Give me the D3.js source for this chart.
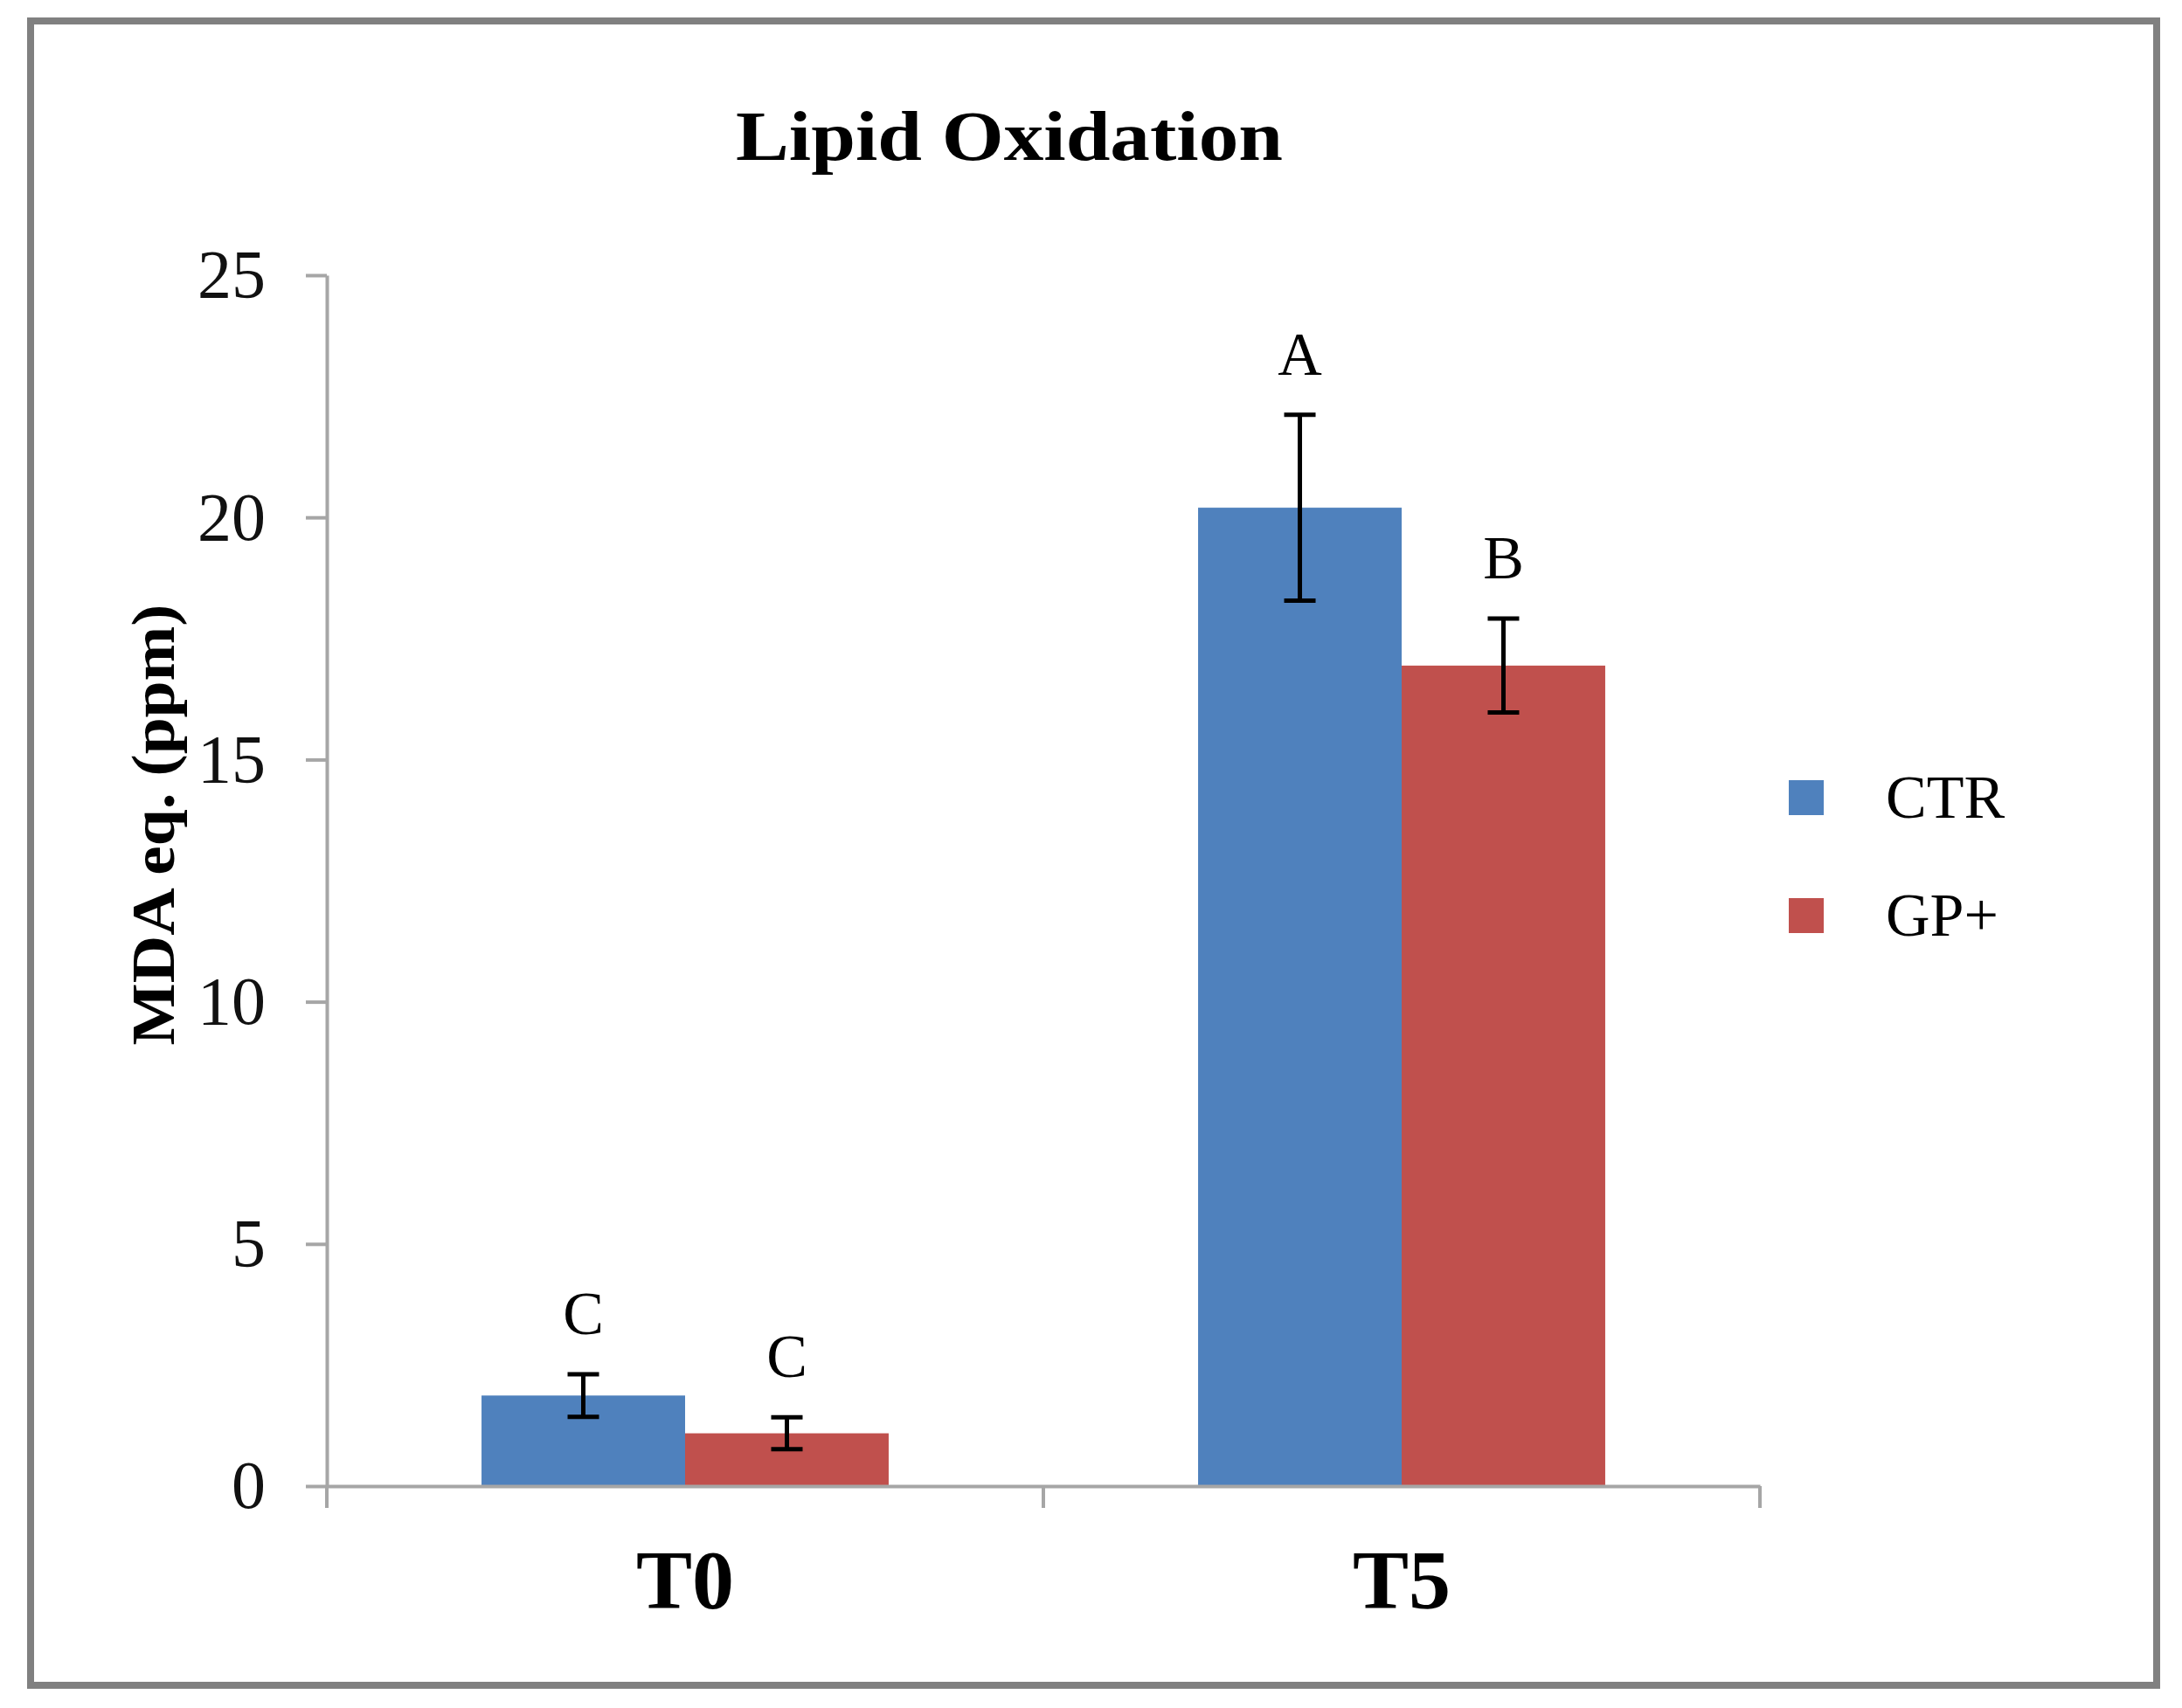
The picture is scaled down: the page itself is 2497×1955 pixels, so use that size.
<!DOCTYPE html>
<html>
<head>
<meta charset="utf-8">
<script src="https://cdn.jsdelivr.net/npm/d3@7"></script>
<style>
  body { margin: 0; background: #fff; }
  svg { display: block; }
</style>
</head>
<body>
<svg id="chart" width="2497" height="1955"></svg>
<script>
// data
const categories = ['T0', 'T5'];
const seriesNames = ['CTR', 'GP+'];
const ctrValues = [1.87, 20.2];
const gpValues = [1.09, 16.94];
const ctrErrors = [0.44, 1.92];
const gpErrors = [0.33, 0.97];
const ctrLetters = ['C', 'A'];
const gpLetters = ['C', 'B'];
const yTicks = [0, 5, 10, 15, 20, 25];

const colors = ['#4f81bd', '#c0504d'];
const axisColor = '#a6a6a6';
const serif = '"Liberation Serif", "DejaVu Serif", serif';

const width = 2497, height = 1955;
const margin = { top: 315, right: 483, bottom: 254, left: 374 };

const svg = d3.select('#chart');

// outer frame
svg.append('rect')
    .attr('x', 35).attr('y', 24)
    .attr('width', 2433).attr('height', 1905)
    .attr('fill', '#fff')
    .attr('stroke', '#808080')
    .attr('stroke-width', 8);

const x = d3.scaleBand()
    .domain(categories)
    .range([margin.left, width - margin.right])
    .paddingInner(0).paddingOuter(0);

const xSeries = d3.scaleBand()
    .domain(seriesNames)
    .range([0, x.bandwidth()])
    .paddingInner(0).paddingOuter(0.76);

const y = d3.scaleLinear()
    .domain([0, 25])
    .range([height - margin.bottom, margin.top]);

// rows: one per category x series
const rows = [];
categories.forEach((c, i) => {
    rows.push({ cat: c, s: seriesNames[0], v: ctrValues[i], e: ctrErrors[i], l: ctrLetters[i], col: colors[0] });
    rows.push({ cat: c, s: seriesNames[1], v: gpValues[i], e: gpErrors[i], l: gpLetters[i], col: colors[1] });
});

// bars
svg.append('g').selectAll('rect').data(rows).join('rect')
    .attr('x', d => x(d.cat) + xSeries(d.s))
    .attr('y', d => y(d.v))
    .attr('width', xSeries.bandwidth())
    .attr('height', d => y(0) - y(d.v))
    .attr('fill', d => d.col);

// y axis
const yAxis = svg.append('g')
    .attr('transform', `translate(${margin.left},0)`)
    .call(d3.axisLeft(y).tickValues(yTicks).tickSize(24).tickSizeOuter(0).tickPadding(46));
yAxis.select('.domain').attr('stroke', axisColor).attr('stroke-width', 4);
yAxis.selectAll('.tick line').attr('stroke', axisColor).attr('stroke-width', 4);
yAxis.selectAll('.tick text')
    .attr('fill', '#111')
    .style('font-family', serif)
    .style('font-size', '78px');

// x axis: line plus ticks at category boundaries
const xAxis = svg.append('g')
    .attr('transform', `translate(0,${y(0)})`)
    .call(d3.axisBottom(x).tickSize(0).tickSizeOuter(0).tickPadding(72));
xAxis.select('.domain').attr('stroke', axisColor).attr('stroke-width', 4);
xAxis.selectAll('.tick text')
    .attr('fill', '#000')
    .style('font-family', serif)
    .style('font-weight', 'bold')
    .style('font-size', '96px');

const bounds = categories.map(c => x(c)).concat([x(categories[categories.length - 1]) + x.bandwidth()]);
xAxis.selectAll('line.bound').data(bounds).join('line')
    .attr('class', 'bound')
    .attr('x1', d => d).attr('x2', d => d)
    .attr('y1', 0).attr('y2', 25)
    .attr('stroke', axisColor).attr('stroke-width', 4);

// error bars
const capW = 36;
const err = svg.append('g').attr('stroke', '#000').attr('stroke-width', 5);
rows.forEach(d => {
    const cx = x(d.cat) + xSeries(d.s) + xSeries.bandwidth() / 2;
    err.append('line').attr('x1', cx).attr('x2', cx)
        .attr('y1', y(d.v + d.e)).attr('y2', y(d.v - d.e));
    err.append('line').attr('x1', cx - capW / 2).attr('x2', cx + capW / 2)
        .attr('y1', y(d.v + d.e)).attr('y2', y(d.v + d.e));
    err.append('line').attr('x1', cx - capW / 2).attr('x2', cx + capW / 2)
        .attr('y1', y(d.v - d.e)).attr('y2', y(d.v - d.e));
});

// significance letters
svg.append('g').selectAll('text').data(rows).join('text')
    .attr('x', d => x(d.cat) + xSeries(d.s) + xSeries.bandwidth() / 2)
    .attr('y', d => y(d.v + d.e) - 46)
    .attr('text-anchor', 'middle')
    .style('font-family', serif)
    .style('font-size', '70px')
    .text(d => d.l);

// title
svg.append('text')
    .attr('x', 1155).attr('y', 183)
    .attr('text-anchor', 'middle')
    .attr('textLength', 626)
    .attr('lengthAdjust', 'spacingAndGlyphs')
    .style('font-family', serif)
    .style('font-weight', 'bold')
    .style('font-size', '80px')
    .text('Lipid Oxidation');

// y axis title
svg.append('text')
    .attr('transform', `translate(199,944) rotate(-90)`)
    .attr('text-anchor', 'middle')
    .attr('textLength', 505)
    .attr('lengthAdjust', 'spacingAndGlyphs')
    .style('font-family', serif)
    .style('font-weight', 'bold')
    .style('font-size', '70px')
    .text('MDA eq. (ppm)');

// legend
const legend = svg.append('g').attr('transform', 'translate(2047,893)');
seriesNames.forEach((s, i) => {
    const g = legend.append('g').attr('transform', `translate(0,${i * 135})`);
    g.append('rect').attr('width', 40).attr('height', 40).attr('fill', colors[i]);
    g.append('text')
        .attr('x', 111).attr('y', 43)
        .style('font-family', serif)
        .style('font-size', '70px')
        .text(s);
});
</script>
</body>
</html>
